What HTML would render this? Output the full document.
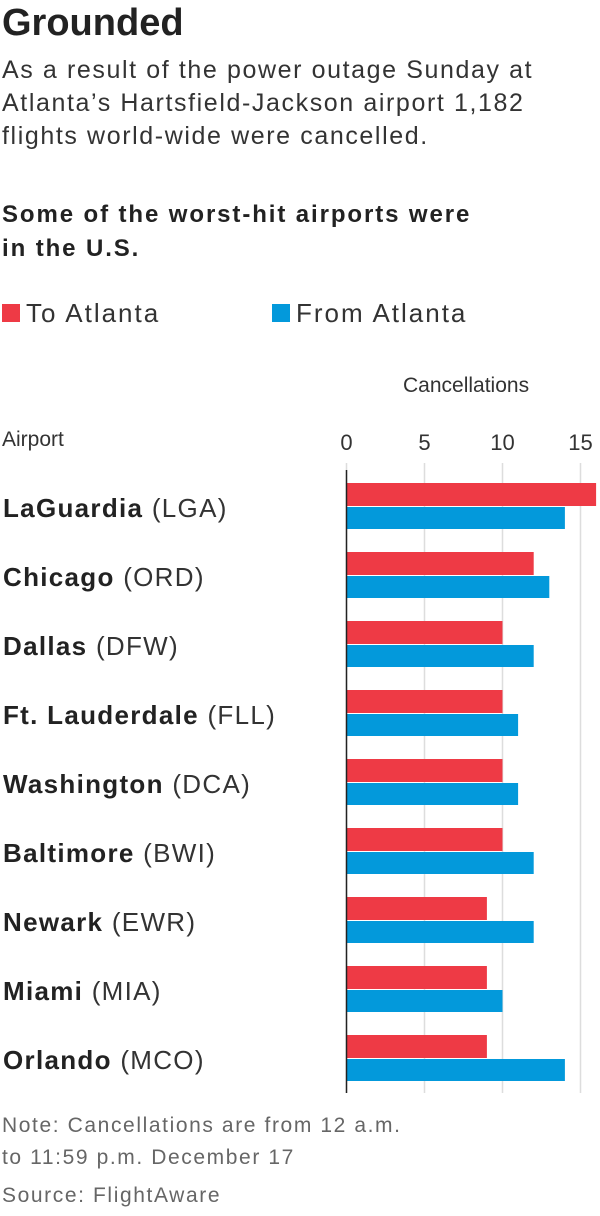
<!DOCTYPE html>
<html><head><meta charset="utf-8"><style>
body{margin:0;width:600px;height:1216px;background:#fff;font-family:"Liberation Sans",sans-serif;color:#333;overflow:hidden;position:relative}
.t{position:absolute;white-space:nowrap}
</style></head><body>
<div class="t" style="left:2px;top:2px;font-size:38px;font-weight:bold;color:#222;letter-spacing:0px">Grounded</div>
<div class="t" style="left:2px;top:54px;font-size:25px;line-height:33px;color:#333;letter-spacing:1.6px">As a result of the power outage Sunday at<br>Atlanta’s Hartsfield-Jackson airport 1,182<br>flights world-wide were cancelled.</div>
<div class="t" style="left:2px;top:198px;font-size:24px;line-height:34px;font-weight:bold;color:#222;letter-spacing:1.9px">Some of the worst-hit airports were<br>in the U.S.</div>
<div class="t" style="left:2px;top:298px;font-size:26px;color:#333;letter-spacing:2px"><span style="display:inline-block;width:18px;height:18px;background:#ee3a45;margin-right:6px"></span>To Atlanta</div>
<div class="t" style="left:272px;top:298px;font-size:26px;color:#333;letter-spacing:2px"><span style="display:inline-block;width:18px;height:18px;background:#0399db;margin-right:6px"></span>From Atlanta</div>
<div class="t" style="left:403px;top:374px;font-size:21px;color:#333">Cancellations</div>
<div class="t" style="left:2px;top:428px;font-size:21px;color:#333">Airport</div>
<svg id="c" width="600" height="1216" style="position:absolute;left:0;top:0"></svg>
<div class="t" style="left:2px;top:1110px;font-size:21px;line-height:32px;color:#666;letter-spacing:1.6px">Note: Cancellations are from 12 a.m.<br>to 11:59 p.m. December 17</div>
<div class="t" style="left:2px;top:1184px;font-size:21px;color:#666;letter-spacing:1.6px">Source: FlightAware</div>
<script>
const names=["LaGuardia","Chicago","Dallas","Ft. Lauderdale","Washington","Baltimore","Newark","Miami","Orlando"];
const codes=["(LGA)","(ORD)","(DFW)","(FLL)","(DCA)","(BWI)","(EWR)","(MIA)","(MCO)"];
const toAtl=[16,12,10,10,10,10,9,9,9];
const fromAtl=[14,13,12,11,11,12,12,10,14];
const ticks=[0,5,10,15];
const svg=document.getElementById('c');const NS='http://www.w3.org/2000/svg';
const x=v=>346.5+v*15.6;
const y=i=>483+i*69;
function mk(t,a){const e=document.createElementNS(NS,t);for(const k in a)e.setAttribute(k,a[k]);svg.appendChild(e);return e;}
ticks.forEach(t=>{
 const g=mk('line',{x1:x(t),x2:x(t),y1:463,y2:1093,stroke:'#ddd','stroke-width':1.5});
 
 
 const l=mk('text',{x:x(t),y:450,'text-anchor':'middle','font-size':22,fill:'#333','font-family':'Liberation Sans, sans-serif'});
 l.textContent=t;
 
 
});
names.forEach((n,i)=>{
 const r=mk('rect',{x:x(0),y:y(i),width:x(toAtl[i])-x(0),height:23,fill:'#ee3a45'});
 
 
 const b=mk('rect',{x:x(0),y:y(i)+24,width:x(fromAtl[i])-x(0),height:22,fill:'#0399db'});
 
 
 const t=mk('text',{x:3,y:y(i)+34,'font-size':26,fill:'#222','font-family':'Liberation Sans, sans-serif','letter-spacing':1.3});
 t.innerHTML='<tspan font-weight="bold">'+n+'</tspan> <tspan fill="#333">'+codes[i]+'</tspan>';
 
 
});
const a=mk('line',{x1:x(0),x2:x(0),y1:470,y2:1093,stroke:'#222','stroke-width':1.5});


</script>
</body></html>
